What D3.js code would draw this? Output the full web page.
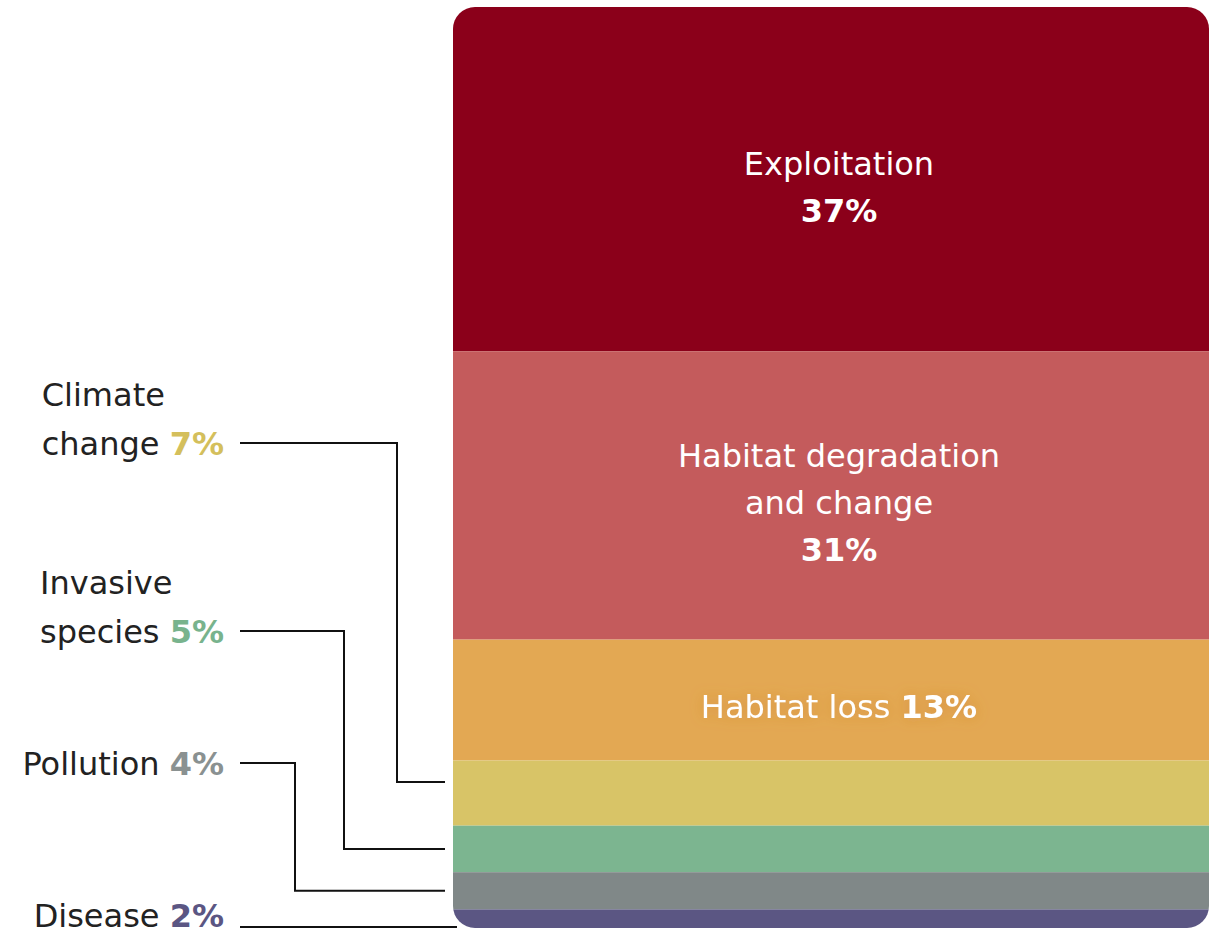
<!DOCTYPE html>
<html>
<head>
<meta charset="utf-8">
<script src="https://cdn.jsdelivr.net/npm/d3@7"></script>
<style>
  html, body { margin: 0; padding: 0; background: #fff; }
  svg { display: block; }
  text { font-family: "DejaVu Sans", Arial, sans-serif; }
</style>
</head>
<body>
<svg id="chart"></svg>
<script>
// threats, top to bottom of the bar
var names   = ['Exploitation', 'Habitat degradation and change', 'Habitat loss', 'Climate change', 'Invasive species', 'Pollution', 'Disease'];
var values  = [37, 31, 13, 7, 5, 4, 2];
var colours = ['#8b001a', '#c45b5c', '#e3a853', '#d8c467', '#7cb590', '#808888', '#5b5683'];
var pctColours = ['#fff', '#fff', '#fff', '#d4bf5c', '#78b38d', '#8a9191', '#5b5683'];

// how each name is broken over lines
var innerLines = [['Exploitation'], ['Habitat degradation', 'and change'], []];
var outerLines = [[], [], [], ['Climate', 'change'], ['Invasive', 'species'], ['Pollution'], ['Disease']];

var W = 1209, H = 936;
var svg = d3.select('#chart').attr('width', W).attr('height', H);

var data = names.map(function (n, i) {
  return { name: n, value: values[i], colour: colours[i], pct: pctColours[i], idx: i };
});
var cum = 0;
data.forEach(function (d) { d.start = cum; cum += d.value; d.end = cum; });

var y = d3.scaleLinear().domain([0, cum]).range([7, 928]);
var x = d3.scaleLinear().domain([0, 1]).range([453, 1209]);

var defs = svg.append('defs');
defs.append('clipPath').attr('id', 'barclip')
  .append('rect')
  .attr('x', x(0)).attr('y', y(0))
  .attr('width', x(1) - x(0)).attr('height', y(cum) - y(0))
  .attr('rx', 22).attr('ry', 22);

var glow = defs.append('filter').attr('id', 'glow')
  .attr('x', '-20%').attr('y', '-60%').attr('width', '140%').attr('height', '220%');
glow.append('feGaussianBlur').attr('in', 'SourceAlpha').attr('stdDeviation', 7).attr('result', 'b');
glow.append('feFlood').attr('flood-color', '#c9782a').attr('flood-opacity', 0.45);
glow.append('feComposite').attr('in2', 'b').attr('operator', 'in').attr('result', 's');
var mg = glow.append('feMerge');
mg.append('feMergeNode').attr('in', 's');
mg.append('feMergeNode').attr('in', 'SourceGraphic');

var bar = svg.append('g').attr('clip-path', 'url(#barclip)');
bar.selectAll('rect')
  .data(data)
  .enter()
  .append('rect')
  .attr('x', x(0))
  .attr('width', x(1) - x(0))
  .attr('y', function (d) { return y(d.start); })
  .attr('height', function (d) { return y(d.end) - y(d.start); })
  .attr('fill', function (d) { return d.colour; });

// labels inside the bar
var cx = (x(0) + x(1)) / 2 + 8;
var fs = 32, lh = 47;
data.slice(0, 3).forEach(function (d) {
  var mid = (y(d.start) + y(d.end)) / 2;
  var lines = innerLines[d.idx];
  var g = svg.append('g').attr('fill', '#fff').attr('font-size', fs).attr('text-anchor', 'middle');
  if (lines.length === 0) {
    // single line, name + bold value
    var t = g.append('text').attr('x', cx).attr('y', mid + 18).attr('filter', 'url(#glow)');
    t.append('tspan').text(d.name + ' ');
    t.append('tspan').attr('font-weight', 'bold').text(d.value + '%');
    return;
  }
  var n = lines.length + 1;
  var base = mid + 12 + 7 - (n - 1) * lh / 2;
  lines.forEach(function (l, k) {
    g.append('text').attr('x', cx).attr('y', base + k * lh).text(l);
  });
  g.append('text').attr('x', cx).attr('y', base + lines.length * lh)
    .attr('font-weight', 'bold').text(d.value + '%');
});

// labels to the left with leader lines
var labelRight = 224, lineStart = 240, lineEnd = 445;
var elbowX = { 3: 397, 4: 344, 5: 295 };
var labelY = { 3: 443, 4: 631, 5: 763, 6: 927 };
var anchorFrac = { 3: 0.33, 4: 0.5, 5: 0.5, 6: 1 };

data.slice(3).forEach(function (d) {
  var ly = labelY[d.idx];
  var ay = y(d.start) + (y(d.end) - y(d.start)) * anchorFrac[d.idx];
  var pts;
  if (elbowX[d.idx]) {
    var ex = elbowX[d.idx];
    pts = [[lineStart, ly], [ex, ly], [ex, ay], [lineEnd, ay]];
  } else {
    pts = [[lineStart, ay - 1], [lineEnd + 12, ay - 1]];
  }
  svg.append('path')
    .attr('d', d3.line()(pts))
    .attr('fill', 'none')
    .attr('stroke', '#111')
    .attr('stroke-width', 2);

  var lines = outerLines[d.idx];
  var base = Math.min(ly + 12, 927);
  var last = svg.append('text')
    .attr('x', labelRight).attr('y', base)
    .attr('text-anchor', 'end').attr('font-size', fs).attr('fill', '#222');
  last.append('tspan').text(lines[lines.length - 1] + ' ');
  last.append('tspan').attr('font-weight', 'bold').attr('fill', d.pct).text(d.value + '%');
  if (lines.length > 1) {
    var left = last.node().getBBox().x;
    svg.append('text')
      .attr('x', left).attr('y', base - 49)
      .attr('font-size', fs).attr('fill', '#222')
      .text(lines[0]);
  }
});
</script>
</body>
</html>
